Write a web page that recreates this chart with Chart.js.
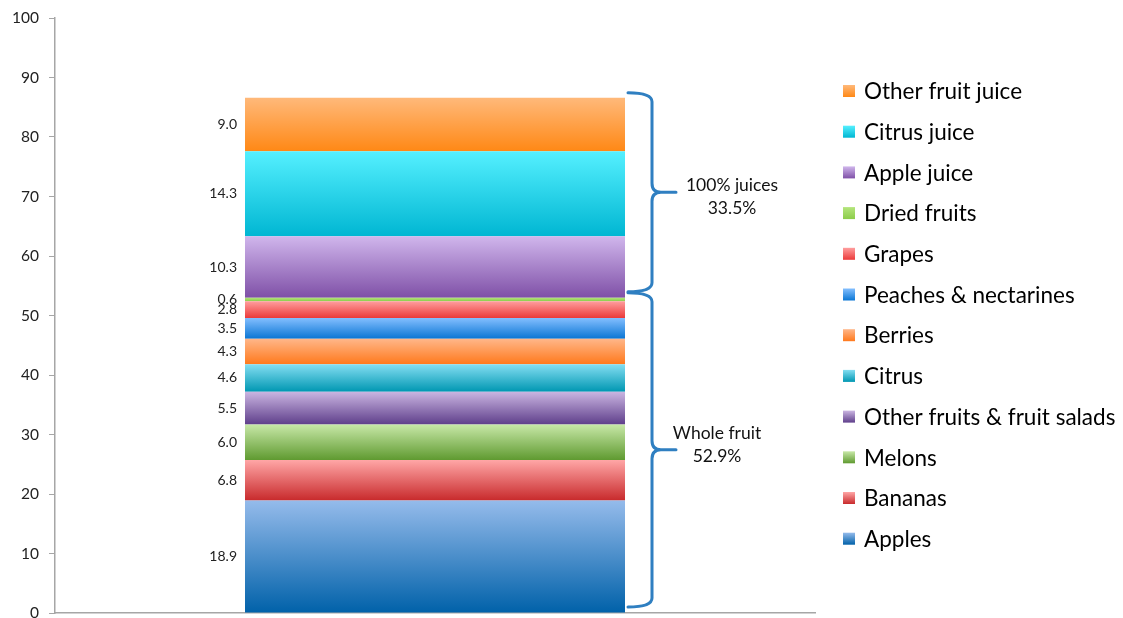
<!DOCTYPE html>
<html>
<head>
<meta charset="utf-8">
<script src="https://cdn.jsdelivr.net/npm/chart.js@4"></script>
<style>
  html, body { margin: 0; padding: 0; background: #fff; }
  #wrap { width: 1123px; height: 618px; position: relative; }
</style>
</head>
<body>
<div id="wrap"><canvas id="fruitChart"></canvas></div>
<script>
// data, bottom segment first
const categories = ['Fruit intake'];
const seriesNames = ['Apples', 'Bananas', 'Melons', 'Other fruits & fruit salads', 'Citrus', 'Berries',
  'Peaches & nectarines', 'Grapes', 'Dried fruits', 'Apple juice', 'Citrus juice', 'Other fruit juice'];
const seriesValues = [18.9, 6.8, 6.0, 5.5, 4.6, 4.3, 3.5, 2.8, 0.6, 10.3, 14.3, 9.0];
const yMin = 0, yMax = 100, yStep = 10;

// brace groups: name, share, first and last series index
const groupNames = ['Whole fruit', '100% juices'];
const groupShares = ['52.9%', '33.5%'];
const groupFirst = [0, 9];
const groupLast = [8, 11];

// gradient colours (top -> bottom of each segment)
const topColors = ['#95bbeb', '#ffa6a6', '#c8e8a8', '#cbb6e2', '#84def2', '#ffb78a',
  '#84bfff', '#ff9e9e', '#b4e57c', '#d0b6ec', '#55f0ff', '#ffb97a'];
const bottomColors = ['#0061a9', '#c82a2c', '#5f9a30', '#5f3f8b', '#0097b2', '#ff791c',
  '#0a76d4', '#eb3a3a', '#8ccc4a', '#7f50a7', '#00b6d2', '#ff8815'];
const braceColor = '#2f7fc1';
const FONT = 'Lato, "Open Sans", sans-serif';

function stackBase(chart, i) {
  let s = 0;
  for (let k = 0; k < i; k++) s += chart.data.datasets[k].data[0];
  return s;
}

function segGradient(ctx) {
  const chart = ctx.chart;
  const i = ctx.datasetIndex;
  const y = chart.scales.y;
  if (!y || !chart.chartArea) return bottomColors[i];
  const base = stackBase(chart, i);
  const top = y.getPixelForValue(base + chart.data.datasets[i].data[0]);
  const bot = y.getPixelForValue(base);
  const g = chart.ctx.createLinearGradient(0, top, 0, bot);
  g.addColorStop(0, topColors[i]);
  g.addColorStop(1, bottomColors[i]);
  return g;
}

// value labels on the left of each segment
const valueLabels = {
  id: 'valueLabels',
  afterDatasetsDraw(chart) {
    const c = chart.ctx;
    c.save();
    c.font = '14px ' + FONT;
    c.fillStyle = '#222';
    c.textAlign = 'right';
    c.textBaseline = 'middle';
    chart.data.datasets.forEach((ds, i) => {
      const el = chart.getDatasetMeta(i).data[0];
      if (!el) return;
      const x = el.x - el.width / 2 - 8;
      c.fillText(ds.data[0].toFixed(1), x, (el.y + el.base) / 2);
    });
    c.restore();
  }
};

// curly braces with group totals
const braces = {
  id: 'braces',
  afterDatasetsDraw(chart) {
    const c = chart.ctx;
    const y = chart.scales.y;
    const el0 = chart.getDatasetMeta(0).data[0];
    const x0 = el0.x + el0.width / 2 + 3;
    const xs = x0 + 24, xt = xs + 24, r = 9;
    const textDx = [41, 56];
    const textDy = [-16, -7];
    groupNames.forEach((name, g) => {
      const lo = stackBase(chart, groupFirst[g]);
      const hi = stackBase(chart, groupLast[g] + 1);
      const top = y.getPixelForValue(hi) - 5;
      const bot = y.getPixelForValue(lo) - 6;
      const mid = (top + bot) / 2;
      c.save();
      c.strokeStyle = braceColor;
      c.lineWidth = 3;
      c.lineCap = 'round';
      c.beginPath();
      c.moveTo(x0, top);
      c.quadraticCurveTo(xs, top, xs, top + r);
      c.lineTo(xs, mid - r);
      c.quadraticCurveTo(xs, mid, xs + r, mid);
      c.lineTo(xt, mid);
      c.moveTo(xs + r, mid);
      c.quadraticCurveTo(xs, mid, xs, mid + r);
      c.lineTo(xs, bot - r);
      c.quadraticCurveTo(xs, bot, x0, bot);
      c.stroke();
      c.font = '17.5px ' + FONT;
      c.fillStyle = '#111';
      c.textAlign = 'center';
      c.textBaseline = 'middle';
      c.fillText(name, xt + textDx[g], mid + textDy[g]);
      c.fillText(groupShares[g], xt + textDx[g], mid + textDy[g] + 23);
      c.restore();
    });
  }
};

// legend, top item = last series
const sideLegend = {
  id: 'sideLegend',
  afterDraw(chart) {
    const c = chart.ctx;
    const n = chart.data.datasets.length;
    c.save();
    c.font = '22.5px ' + FONT;
    c.textBaseline = 'middle';
    c.textAlign = 'left';
    for (let k = 0; k < n; k++) {
      const i = n - 1 - k;
      const cy = 91 + k * 40.7;
      const g = c.createLinearGradient(0, cy - 6, 0, cy + 6);
      g.addColorStop(0, topColors[i]);
      g.addColorStop(1, bottomColors[i]);
      c.fillStyle = g;
      c.fillRect(843, cy - 6, 12, 12);
      c.fillStyle = '#000';
      c.fillText(chart.data.datasets[i].label, 864, cy + 1);
    }
    c.restore();
  }
};

const ctx = document.getElementById('fruitChart').getContext('2d');
const fruitChart = new Chart(ctx, {
  type: 'bar',
  data: {
    labels: categories,
    datasets: seriesNames.map((name, i) => ({
      label: name,
      data: [seriesValues[i]],
      backgroundColor: segGradient,
      borderWidth: 0,
      categoryPercentage: 1,
      barPercentage: 0.5
    }))
  },
  options: {
    responsive: true,
    maintainAspectRatio: false,
    animation: false,
    layout: { padding: { left: 0, top: 18, right: 308, bottom: 5 } },
    plugins: {
      legend: { display: false },
      tooltip: { enabled: false }
    },
    scales: {
      x: {
        stacked: true,
        ticks: { display: false },
        grid: { display: true, drawOnChartArea: false, drawTicks: false },
        border: { color: '#a6a6a6', width: 1.5 },
        afterFit(scale) { scale.height = 0; }
      },
      y: {
        stacked: true,
        min: yMin,
        max: yMax,
        ticks: {
          stepSize: yStep,
          padding: 10,
          color: '#222',
          font: { family: FONT, size: 15.5 }
        },
        grid: { drawOnChartArea: false, drawTicks: true, tickLength: 6, color: '#a6a6a6' },
        border: { color: '#a6a6a6', width: 1.5 },
        afterFit(scale) {
          scale.width = 55;
          scale.paddingTop = 0;
          scale.paddingBottom = 0;
        }
      }
    }
  },
  plugins: [valueLabels, braces, sideLegend]
});
</script>
</body>
</html>
